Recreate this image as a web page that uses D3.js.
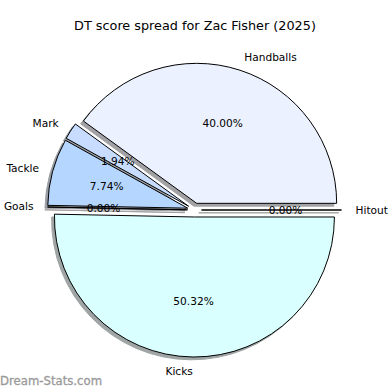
<!DOCTYPE html>
<meta charset="utf-8" />
<style>
  body { margin: 0; background: #fff; }
  svg { display: block; font-family: "DejaVu Sans", sans-serif; }
  .wedge { stroke: #000; stroke-width: 1px; stroke-linejoin: round; }
</style>
<body>
<script src="https://d3js.org/d3.v7.min.js"></script>
<script>

// DT points per stat (kicks 3, handballs 2, marks 3, tackles 4...)
var categories = ["Hitout", "Handballs", "Mark", "Tackle", "Goals", "Kicks"];
var points     = [0, 62, 3, 12, 0, 78];
var colours    = ["#e0ffe0", "#ebf1ff", "#c8dcff", "#b5d6ff", "#ffe6e6", "#d9ffff"];
var title      = "DT score spread for Zac Fisher (2025)";

var width = 390, height = 390;
var cx = 194.5, cy = 210,
    radius = 140,
    explode = 0.05 * radius;

var data = categories.map(function(c, i) {
  return {label: c, value: points[i], colour: colours[i]};
});
var total = d3.sum(points);

var svg = d3.select("body").append("svg")
    .attr("width", width)
    .attr("height", height);

// matplotlib style: start at 3 o'clock, go counter-clockwise
var pie = d3.pie()
    .sort(null)
    .value(function(d) { return d.value; })
    .startAngle(Math.PI / 2)
    .endAngle(Math.PI / 2 - 2 * Math.PI);

var arc = d3.arc().innerRadius(0).outerRadius(radius);

var arcs = pie(data);
arcs.forEach(function(a) {
  // mid angle in d3 terms (0 = up, clockwise)
  a.mid = (a.startAngle + a.endAngle) / 2;
  a.dx = Math.sin(a.mid);
  a.dy = -Math.cos(a.mid);
  a.ox = cx + explode * a.dx;
  a.oy = cy + explode * a.dy;
});

// shadows first, underneath every wedge
svg.append("g").selectAll("path")
    .data(arcs)
  .enter().append("path")
    .attr("transform", function(d) { return "translate(" + (d.ox - 2.8) + "," + (d.oy + 2.8) + ")"; })
    .attr("d", arc)
    .attr("fill", function(d) {
      var c = d3.rgb(d.data.colour);
      return d3.rgb(c.r * 0.3, c.g * 0.3, c.b * 0.3);
    })
    .attr("stroke", function(d) {
      var c = d3.rgb(d.data.colour);
      return d3.rgb(c.r * 0.3, c.g * 0.3, c.b * 0.3);
    })
    .attr("stroke-width", 1)
    .attr("opacity", 0.5);

// wedges
svg.append("g").selectAll("path")
    .data(arcs)
  .enter().append("path")
    .attr("class", "wedge")
    .attr("transform", function(d) { return "translate(" + d.ox + "," + d.oy + ")"; })
    .attr("d", arc)
    .attr("fill", function(d) { return d.data.colour; });

// category labels
svg.append("g").selectAll("text")
    .data(arcs)
  .enter().append("text")
    .attr("x", function(d) { return d.ox + 1.1 * radius * d.dx; })
    .attr("y", function(d) { return d.oy + 1.1 * radius * d.dy; })
    .attr("dy", "0.35em")
    .attr("text-anchor", function(d) { return d.dx > 0 ? "start" : "end"; })
    .style("font-size", "10.6px")
    .attr("fill", "#000")
    .text(function(d) { return d.data.label; });

// percentages
svg.append("g").selectAll("text")
    .data(arcs)
  .enter().append("text")
    .attr("x", function(d) { return d.ox + 0.6 * radius * d.dx; })
    .attr("y", function(d) { return d.oy + 0.6 * radius * d.dy; })
    .attr("dy", "0.35em")
    .attr("text-anchor", "middle")
    .style("font-size", "10.6px")
    .attr("fill", "#000")
    .text(function(d) { return (100 * d.data.value / total).toFixed(2) + "%"; });

svg.append("text")
    .attr("x", 195)
    .attr("y", 26)
    .attr("dy", "0.35em")
    .attr("text-anchor", "middle")
    .style("font-size", "12.8px")
    .text(title);

// watermark
svg.append("text")
    .attr("x", 0)
    .attr("y", 385)
    .style("font-size", "11.7px")
    .attr("fill", "#9a9a9a")
    .attr("stroke", "#9a9a9a")
    .attr("stroke-width", 0.3)
    .text("Dream-Stats.com");

</script>
</body>
